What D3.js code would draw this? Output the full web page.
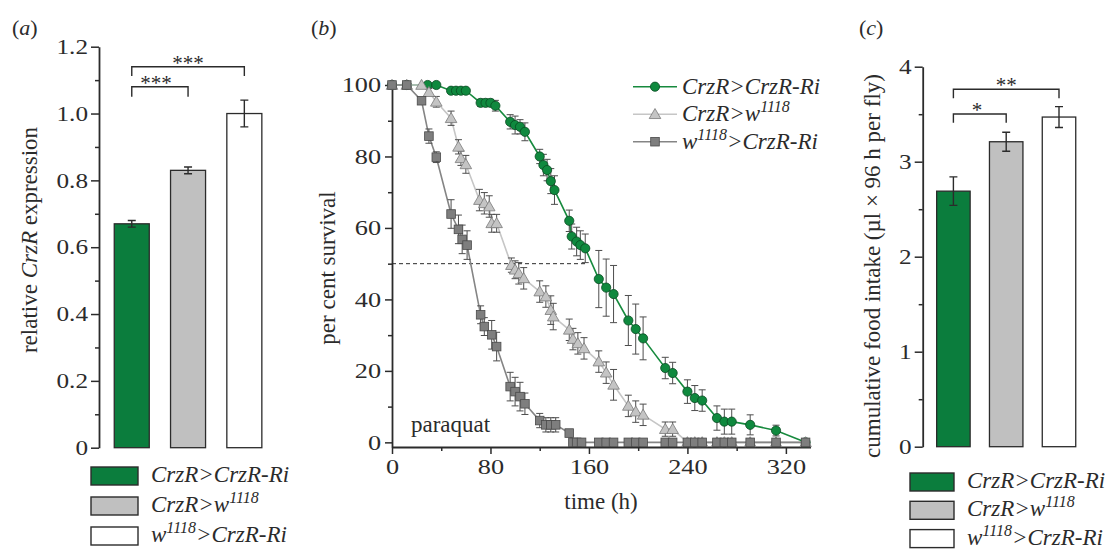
<!DOCTYPE html>
<html>
<head>
<meta charset="utf-8">
<script src="https://cdn.jsdelivr.net/npm/d3@7"></script>
<style>
  body { margin: 0; background: #fff; }
  svg { font-family: "Liberation Serif", "Times New Roman", serif; }
</style>
</head>
<body>
<svg id="fig" width="1112" height="549"></svg>
<script>
// genotypes, shared by all three panels
const genotypes = ['CrzR>CrzR-Ri', 'CrzR>w1118', 'w1118>CrzR-Ri']
const barFills = ['#0b7d3d', '#c0c0c0', '#ffffff']

// (a) relative CrzR expression
const exprMean = [0.67, 0.83, 1.0]
const exprErr = [0.01, 0.01, 0.04]
const exprTicks = [0, 0.2, 0.4, 0.6, 0.8, 1.0, 1.2]
const exprMinor = [0.1, 0.3, 0.5, 0.7, 0.9, 1.1]

// (b) survival on paraquat
const riTime = [0, 12, 29, 36, 48, 52, 56, 60, 72, 76, 80, 84, 96, 100, 104, 108, 120, 123, 126, 129, 132, 144, 146, 150, 153, 157, 168, 174, 180, 192, 198, 204, 222, 228, 240, 246, 252, 264, 270, 276, 291, 312, 336]
const riSurv = [100, 100, 100, 100, 98.4, 98.4, 98.4, 98.4, 95, 95, 95, 94.2, 89.7, 88.8, 88.3, 86.9, 80, 77.6, 76.2, 73.1, 70.6, 62, 57.6, 56.2, 55.2, 54.3, 45.7, 43.3, 41.5, 34.1, 31.7, 29.1, 20.8, 19.4, 14.2, 12.4, 11.7, 6.8, 5.8, 5.8, 4.9, 3.3, 0]
const riErr = [0, 0, 0, 0, 0.5, 0.5, 0.5, 0.5, 1, 1, 1, 1.5, 2, 2.5, 2, 2.5, 2, 3, 3, 3.5, 4, 3, 3.5, 4, 4, 4, 8, 8, 8, 7, 7, 6, 3, 3, 3.3, 3.5, 3, 3.4, 3.5, 3.5, 2.8, 1.5, 0]

const wTime = [0, 12, 24, 30, 36, 48, 54, 56, 60, 71, 75, 79, 81, 85, 97, 100, 103, 107, 120, 125, 129, 131, 144, 147, 151, 156, 168, 174, 180, 192, 198, 204, 222, 228, 240, 246, 252, 264, 270, 276, 291, 312, 336]
const wSurv = [100, 100, 100, 98, 95.3, 90.7, 82.7, 79.5, 77.8, 67.8, 66.9, 66, 61.3, 61.3, 49.6, 48.3, 47.3, 45.9, 42.2, 40.8, 37, 35.2, 31.5, 28.9, 27.7, 26.3, 22.6, 19.5, 16.1, 10.2, 8.6, 7.7, 3.7, 3.7, 0, 0, 0, 0, 0, 0, 0, 0, 0]
const wErr = [0, 0, 0, 1, 1.5, 2, 2, 2, 2.5, 3, 3, 3, 2.5, 2.5, 2, 2.5, 3, 3, 3, 3, 4, 3.7, 3, 3, 3, 3, 3, 3, 4.3, 3, 3, 3, 2, 2, 0.5, 0, 0, 0, 0, 0, 0, 0, 0]

const ctlTime = [0, 12, 24, 30, 36, 48, 54, 57, 61, 72, 75, 81, 85, 96, 100, 104, 108, 120, 125, 129, 133, 144, 147, 150, 154, 168, 174, 180, 192, 198, 204, 222, 228, 240, 246, 252, 264, 270, 276, 291, 312, 336]
const ctlSurv = [100, 100, 95.6, 85.7, 79.8, 63.9, 59.6, 56.8, 55.2, 35.7, 32.4, 30.1, 26.8, 15.6, 14.2, 12.8, 10.8, 6.1, 4.9, 4.9, 4.9, 2.6, 0, 0, 0, 0, 0, 0, 0, 0, 0, 0, 0, 0, 0, 0, 0, 0, 0, 0, 0, 0]
const ctlErr = [0, 0, 1, 2, 1.5, 4, 4, 4, 4, 2.5, 2.5, 4, 4, 4, 4, 4, 3, 2, 2, 2, 2, 1, 0, 0, 0, 0, 0, 0, 0, 0, 0, 0, 0, 0, 0, 0, 0, 0, 0, 0, 0, 0]

const survTicks = [0, 20, 40, 60, 80, 100]
const survMinor = [10, 30, 50, 70, 90]
const timeTicks = [0, 80, 160, 240, 320]
const timeMinor = [40, 120, 200, 280]

// (c) cumulative food intake
const intakeMean = [2.69, 3.21, 3.47]
const intakeErr = [0.15, 0.1, 0.11]
const intakeTicks = [0, 1, 2, 3, 4]
const intakeMinor = [0.5, 1.5, 2.5, 3.5]

const svg = d3.select('#fig')
const ink = '#2b2b2b'

// stretch glyphs a bit, the figure's lettering is wider than Liberation Serif
function widen(sel, k) {
    sel.each(function () {
        const w = this.getComputedTextLength()
        d3.select(this).attr('textLength', w * k).attr('lengthAdjust', 'spacingAndGlyphs')
    })
}

function styleAxis(g) {
    g.selectAll('.domain').attr('stroke', ink).attr('stroke-width', 1.8)
    g.selectAll('.tick line').attr('stroke', ink).attr('stroke-width', 1.5)
    g.selectAll('.tick text').attr('fill', ink).style('font-size', '21px')
        .style('font-family', '"Liberation Serif", serif')
}

// label with italic genotype and superscript 1118
function genoLabel(text, name) {
    const parts = name.split('1118')
    text.style('font-style', 'italic')
    if (parts.length === 1) {
        text.append('tspan').text(name)
        return
    }
    text.append('tspan').text(parts[0])
    text.append('tspan').text('1118').attr('dy', -9).style('font-size', '16px')
    text.append('tspan').text(parts[1]).attr('dy', 9)
}

function barPanel(cfg) {
    const x = d3.scaleBand().domain(genotypes).range(cfg.xRange)
        .paddingInner(cfg.pad).paddingOuter(0.2)
    const y = d3.scaleLinear().domain(cfg.yDomain).range(cfg.yRange)
    const g = svg.append('g')

    const ax = g.append('g').attr('transform', `translate(${cfg.axisX},0)`)
        .call(d3.axisLeft(y).tickValues(cfg.ticks).tickFormat(cfg.fmt)
            .tickSize(8).tickPadding(3).tickSizeOuter(0))
    styleAxis(ax)
    widen(ax.selectAll('.tick text'), 1.2)
    const mi = g.append('g').attr('transform', `translate(${cfg.axisX},0)`)
        .call(d3.axisLeft(y).tickValues(cfg.minor).tickFormat('').tickSize(4))
    mi.select('.domain').remove()
    styleAxis(mi)

    g.selectAll('.bar').data(genotypes).enter().append('rect')
        .attr('x', d => x(d))
        .attr('y', (d, i) => y(cfg.mean[i]))
        .attr('width', x.bandwidth())
        .attr('height', (d, i) => y(0) - y(cfg.mean[i]))
        .attr('fill', (d, i) => barFills[i])
        .attr('stroke', ink).attr('stroke-width', 1.3)

    // error bars
    genotypes.forEach((d, i) => {
        const cx = x(d) + x.bandwidth() / 2
        const lo = y(cfg.mean[i] - cfg.err[i]), hi = y(cfg.mean[i] + cfg.err[i])
        g.append('path')
            .attr('d', `M${cx},${lo}V${hi}M${cx - 4},${lo}H${cx + 4}M${cx - 4},${hi}H${cx + 4}`)
            .attr('stroke', ink).attr('stroke-width', 1.4).attr('fill', 'none')
    })

    // significance brackets
    cfg.brackets.forEach(b => {
        const x1 = x(genotypes[b.from]) + x.bandwidth() / 2
        const x2 = x(genotypes[b.to]) + x.bandwidth() / 2
        const yt = y(b.top), yl = y(b.leg)
        g.append('path').attr('d', `M${x1},${yl}V${yt}H${x2}V${yl}`)
            .attr('stroke', ink).attr('stroke-width', 1.4).attr('fill', 'none')
        g.append('text').attr('x', b.tx != null ? b.tx : (x1 + x2) / 2).attr('y', yt + 3)
            .attr('text-anchor', 'middle').attr('fill', ink).style('font-size', '21px').text(b.text)
    })

    // y title
    const t = g.append('text')
        .attr('transform', `translate(${cfg.titleX},${cfg.titleY}) rotate(-90)`)
        .attr('text-anchor', 'middle').attr('fill', ink).style('font-size', '23px')
    cfg.title.forEach(p => t.append('tspan').text(p.t).style('font-style', p.it ? 'italic' : 'normal'))

    // legend
    genotypes.forEach((d, i) => {
        const ly = cfg.legY + i * cfg.legStep
        g.append('rect').attr('x', cfg.legX).attr('y', ly)
            .attr('width', cfg.legW).attr('height', 18)
            .attr('fill', barFills[i]).attr('stroke', ink).attr('stroke-width', 1.4)
        const tx = g.append('text').attr('x', cfg.legX + cfg.legW + 13).attr('y', ly + 15)
            .attr('fill', ink).style('font-size', '23px')
        genoLabel(tx, d)
    })

    svg.append('text').attr('x', cfg.tagX).attr('y', 35).attr('fill', ink)
        .style('font-size', '22px')
        .call(s => { s.append('tspan').text('(');
            s.append('tspan').style('font-style', 'italic').text(cfg.tag); s.append('tspan').text(')') })
}

// ---------- (a) ----------
barPanel({
    xRange: [103, 273.1], pad: 0.378, axisX: 99,
    yDomain: [0, 1.2], yRange: [447.7, 46.7],
    ticks: exprTicks, minor: exprMinor,
    fmt: d => d === 0 ? '0' : d3.format('.1f')(d),
    mean: exprMean, err: exprErr,
    brackets: [
        { from: 0, to: 2, top: 1.14, leg: 1.112, text: '***' },
        { from: 0, to: 1, top: 1.08, leg: 1.05, text: '***', tx: 156 }
    ],
    title: [{ t: 'relative ' }, { t: 'CrzR', it: true }, { t: ' expression' }],
    titleX: 37, titleY: 240,
    legX: 91, legY: 467, legStep: 30, legW: 47,
    tag: 'a', tagX: 12
})

// ---------- (c) ----------
barPanel({
    xRange: [926.1, 1086.3], pad: 0.366, axisX: 922.7,
    yDomain: [0, 4], yRange: [446.7, 66.7],
    ticks: intakeTicks, minor: intakeMinor,
    fmt: d3.format('d'),
    mean: intakeMean, err: intakeErr,
    brackets: [
        { from: 0, to: 2, top: 3.762, leg: 3.667, text: '**' },
        { from: 0, to: 1, top: 3.502, leg: 3.41, text: '*', tx: 977 }
    ],
    title: [{ t: 'cumulative food intake (µl × 96 h per fly)' }],
    titleX: 880, titleY: 266,
    legX: 910, legY: 473, legStep: 28.3, legW: 44,
    tag: 'c', tagX: 859
})

// ---------- (b) ----------
const xB = d3.scaleLinear().domain([0, 340]).range([392, 810.5])
const yB = d3.scaleLinear().domain([-1.3, 100]).range([447, 85])
const gB = svg.append('g')

const yAx = gB.append('g').attr('transform', 'translate(392,0)')
    .call(d3.axisLeft(yB).tickValues(survTicks).tickSize(7).tickPadding(4).tickSizeOuter(0))
styleAxis(yAx)
widen(yAx.selectAll('.tick text'), 1.25)
const yMi = gB.append('g').attr('transform', 'translate(392,0)')
    .call(d3.axisLeft(yB).tickValues(survMinor).tickFormat('').tickSize(4))
yMi.select('.domain').remove()
styleAxis(yMi)

const xAx = gB.append('g').attr('transform', 'translate(0,447)')
    .call(d3.axisBottom(xB).tickValues(timeTicks).tickSize(7).tickPadding(5).tickSizeOuter(0))
styleAxis(xAx)
widen(xAx.selectAll('.tick text'), 1.25)
const xMi = gB.append('g').attr('transform', 'translate(0,447)')
    .call(d3.axisBottom(xB).tickValues(timeMinor).tickFormat('').tickSize(4))
xMi.select('.domain').remove()
styleAxis(xMi)

// LT50 guide
gB.append('line').attr('x1', xB(0)).attr('x2', xB(158)).attr('y1', yB(50)).attr('y2', yB(50))
    .attr('stroke', ink).attr('stroke-width', 1).attr('stroke-dasharray', '4,3')

const series = [
    { name: genotypes[0], t: riTime, s: riSurv, e: riErr, line: '#178a3e', fill: '#0f893e', stroke: '#0a4a22', shape: 'circle' },
    { name: genotypes[1], t: wTime, s: wSurv, e: wErr, line: '#c6c6c6', fill: '#c4c4c4', stroke: '#7a7a7a', shape: 'triangle' },
    { name: genotypes[2], t: ctlTime, s: ctlSurv, e: ctlErr, line: '#858585', fill: '#7e7e7e', stroke: '#4a4a4a', shape: 'square' }
]

function marker(g, shape, cx, cy, fill, stroke) {
    if (shape === 'circle') {
        g.append('circle').attr('cx', cx).attr('cy', cy).attr('r', 4.6)
            .attr('fill', fill).attr('stroke', stroke).attr('stroke-width', 0.8)
    } else if (shape === 'square') {
        g.append('rect').attr('x', cx - 4.3).attr('y', cy - 4.3).attr('width', 8.6).attr('height', 8.6)
            .attr('fill', fill).attr('stroke', stroke).attr('stroke-width', 0.8)
    } else {
        g.append('path').attr('d', d3.symbol(d3.symbolTriangle, 58)())
            .attr('transform', `translate(${cx},${cy + 1})`)
            .attr('fill', fill).attr('stroke', stroke).attr('stroke-width', 0.8)
    }
}

const line = d3.line().x(d => xB(d[0])).y(d => yB(d[1]))
series.forEach(sr => {
    const pts = sr.t.map((t, i) => [t, sr.s[i], sr.e[i]])
    const g = gB.append('g')
    g.append('path').datum(pts).attr('d', line)
        .attr('fill', 'none').attr('stroke', sr.line).attr('stroke-width', 1.6)
    pts.forEach(p => {
        if (p[2] <= 0) return
        const cx = xB(p[0]), lo = yB(p[1] - p[2]), hi = yB(p[1] + p[2])
        g.append('path')
            .attr('d', `M${cx},${lo}V${hi}M${cx - 3.5},${lo}H${cx + 3.5}M${cx - 3.5},${hi}H${cx + 3.5}`)
            .attr('stroke', '#4d4d4d').attr('stroke-width', 1).attr('fill', 'none')
    })
    pts.forEach(p => marker(g, sr.shape, xB(p[0]), yB(p[1]), sr.fill, sr.stroke))
})

// legend (b)
series.forEach((sr, i) => {
    const ly = 86.7 + i * 27.5
    gB.append('line').attr('x1', 633).attr('x2', 677).attr('y1', ly).attr('y2', ly)
        .attr('stroke', sr.line).attr('stroke-width', 1.6)
    marker(gB, sr.shape, 655, ly, sr.fill, sr.stroke)
    const tx = gB.append('text').attr('x', 682).attr('y', ly + 7).attr('fill', ink).style('font-size', '23px')
    genoLabel(tx, sr.name)
})

gB.append('text').attr('x', 411).attr('y', 432).attr('fill', ink).style('font-size', '23px').text('paraquat')
gB.append('text').attr('x', 601).attr('y', 509).attr('text-anchor', 'middle').attr('fill', ink)
    .style('font-size', '23px').text('time (h)')
gB.append('text').attr('transform', 'translate(335,268) rotate(-90)').attr('text-anchor', 'middle')
    .attr('fill', ink).style('font-size', '23px').text('per cent survival')

svg.append('text').attr('x', 311).attr('y', 35).attr('fill', ink).style('font-size', '22px')
    .call(s => { s.append('tspan').text('('); s.append('tspan').style('font-style', 'italic').text('b'); s.append('tspan').text(')') })
</script>
</body>
</html>
